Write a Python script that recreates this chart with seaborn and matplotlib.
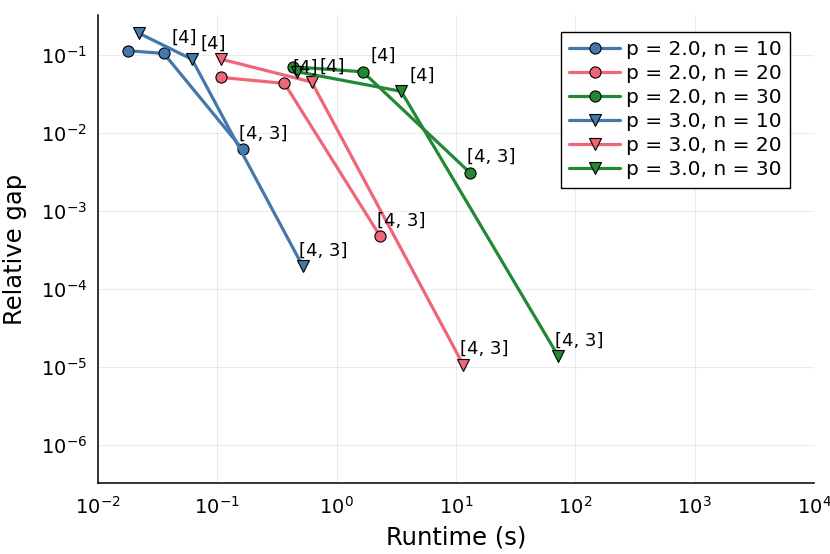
import numpy as np
import pandas as pd
import matplotlib
matplotlib.use("Agg")
import matplotlib.pyplot as plt
import seaborn as sns

# ---- data ----
series_labels = ["p = 2.0, n = 10", "p = 2.0, n = 20", "p = 2.0, n = 30",
                 "p = 3.0, n = 10", "p = 3.0, n = 20", "p = 3.0, n = 30"]
runtime_p2_n10 = [0.0180, 0.0356, 0.163]
gap_p2_n10 = [0.1125, 0.104, 0.00612]
runtime_p2_n20 = [0.107, 0.365, 2.31]
gap_p2_n20 = [0.0513, 0.043, 4.74e-4]
runtime_p2_n30 = [0.428, 1.655, 13.1]
gap_p2_n30 = [0.0702, 0.0605, 3.07e-3]
runtime_p3_n10 = [0.0222, 0.0614, 0.52]
gap_p3_n10 = [0.188, 0.0873, 1.94e-4]
runtime_p3_n20 = [0.107, 0.618, 11.5]
gap_p3_n20 = [0.088, 0.0447, 1.06e-5]
runtime_p3_n30 = [0.469, 3.47, 72.1]
gap_p3_n30 = [0.0605, 0.034, 1.36e-5]
point_labels = ["", "[4]", "[4, 3]"]

runtimes = [runtime_p2_n10, runtime_p2_n20, runtime_p2_n30,
            runtime_p3_n10, runtime_p3_n20, runtime_p3_n30]
gaps = [gap_p2_n10, gap_p2_n20, gap_p2_n30,
        gap_p3_n10, gap_p3_n20, gap_p3_n30]

rows = []
for lab, xs, ys in zip(series_labels, runtimes, gaps):
    for i, (x, y) in enumerate(zip(xs, ys)):
        rows.append({"series": lab, "runtime": x, "gap": y, "note": point_labels[i]})
df = pd.DataFrame(rows)

blue, pink, green = "#4477AA", "#EE6677", "#228833"
palette = dict(zip(series_labels, [blue, pink, green, blue, pink, green]))
markers = dict(zip(series_labels, ["o", "o", "o", "v", "v", "v"]))

sns.set_style("white")
plt.rcParams["font.family"] = ["DejaVu Sans"]
plt.rcParams["text.color"] = "black"
plt.rcParams["axes.labelcolor"] = "black"
plt.rcParams["xtick.color"] = "black"
plt.rcParams["ytick.color"] = "black"

fig = plt.figure(figsize=(8.3, 5.54), dpi=100)
ax = fig.add_axes([98/830, 1-483/554, (814-98)/830, (483-15)/554])

sns.lineplot(data=df, x="runtime", y="gap", hue="series", style="series",
             hue_order=series_labels, style_order=series_labels,
             palette=palette, markers=markers, dashes=False, sort=False,
             errorbar=None, linewidth=2.3, markersize=8,
             markeredgecolor="black", markeredgewidth=0.8, ax=ax)

for _, r in df.iterrows():
    if r["note"]:
        ax.annotate(r["note"], (r["runtime"], r["gap"]), xytext=(15, 11.3),
                    textcoords="offset points", ha="center", va="center",
                    fontsize=13, color="black")

ax.set_xscale("log")
ax.set_yscale("log")
ax.set_xlim(1e-2, 1e4)
ax.set_ylim(10**-6.49, 10**-0.49)
ax.set_xticks([10.0**k for k in range(-2, 5)])
ax.set_yticks([10.0**k for k in range(-6, 0)])
ax.minorticks_off()
ax.tick_params(direction="in", length=4, width=1, labelsize=14, colors="black")
ax.tick_params(axis="x", pad=9)
ax.tick_params(axis="y", pad=8)
ax.grid(True, color="black", alpha=0.08, linewidth=0.8)
for s in ["top", "right"]:
    ax.spines[s].set_visible(False)
for s in ["left", "bottom"]:
    ax.spines[s].set_color("black")
    ax.spines[s].set_linewidth(1.1)

ax.set_xlabel("Runtime (s)", fontsize=17.5, labelpad=6, color="black")
ax.set_ylabel("Relative gap", fontsize=17.5, color="black")
ax.yaxis.set_label_coords(-0.099, 0.5)

handles, labels = ax.get_legend_handles_labels()
leg = ax.legend(handles, labels, loc="upper right",
                bbox_to_anchor=((790-98)/716, (483-31.7)/468), borderaxespad=0,
                fontsize=14.5, frameon=True, fancybox=False, framealpha=1,
                edgecolor="black", handlelength=2.5, labelspacing=0.25,
                borderpad=0.42, handletextpad=0.3)
leg.get_frame().set_linewidth(1.0)
for t in leg.get_texts():
    t.set_color("black")
for h in leg.legend_handles:
    h.set_markeredgecolor("black")
    h.set_markeredgewidth(0.8)
    h.set_linewidth(2.3)

fig.savefig("out.png", dpi=100)
